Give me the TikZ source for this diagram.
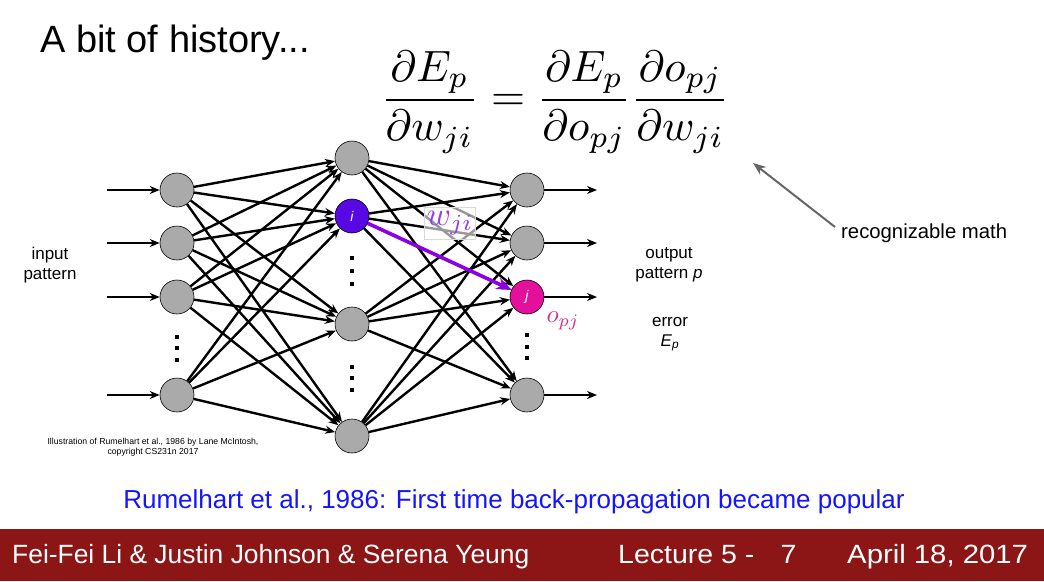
\documentclass[tikz,border=0pt]{standalone}
\usepackage{fontspec}
\setmainfont{Liberation Sans}
\usepackage{graphicx}
\usetikzlibrary{arrows.meta}
\definecolor{cardinal}{RGB}{140,21,21}
\definecolor{unitgray}{RGB}{170,170,170}
\definecolor{hidviolet}{RGB}{88,8,226}
\definecolor{outpink}{RGB}{228,16,156}
\definecolor{wviolet}{RGB}{140,0,230}
\definecolor{wlabel}{RGB}{150,60,235}
\definecolor{olabel}{RGB}{215,45,145}
\definecolor{capblue}{RGB}{20,20,255}

\begin{document}
\begin{tikzpicture}[x=1pt, y=-1pt,
  unit/.style={circle, draw=black, line width=0.6pt, minimum size=34pt, inner sep=0pt, font=\fontsize{14}{14}\selectfont\itshape, text=white},
  edge/.style={-{Stealth[length=10pt,width=8pt]}, line width=2.4pt},
  lab/.style={font=\fontsize{17}{20}\selectfont, align=center},
  foot/.style={anchor=base west, inner sep=0pt, text=white, font=\fontsize{26.4}{30}\selectfont}
]
\path[use as bounding box, fill=white] (0,0) rectangle (1044,581);

\node[anchor=base west, inner sep=0pt, font=\fontsize{38}{40}\selectfont] (title) at (40,52) {A bit of history...};
\node (eqn) at (555,102) {\scalebox{4.38}{$\displaystyle\frac{\partial E_p}{\partial w_{ji}} = \frac{\partial E_p}{\partial o_{pj}}\frac{\partial o_{pj}}{\partial w_{ji}}$}};

% units
\foreach \n/\y/\c/\t in {1/190/unitgray/{},2/243/unitgray/{},3/297/outpink/j,4/395/unitgray/{}} {
  \node[unit, fill=unitgray] (in\n) at (177,\y) {};
  \node[unit, fill=\c] (out\n) at (527,\y) {\t};
  \coordinate (src\n) at (107,\y);
  \coordinate (dst\n) at (597,\y);
}
\foreach \n/\y/\c/\t in {1/158/unitgray/{},2/216/hidviolet/i,3/324/unitgray/{},4/436/unitgray/{}}
  \node[unit, fill=\c] (hid\n) at (352,\y) {\t};

\foreach \x/\y in {177/337,177/348,177/360,352/258,352/271,352/284,352/367,352/378,352/390,527/335,527/347,527/358}
  \fill (\x-1.9,\y-1.9) rectangle ++(3.8,3.8);

% weights
\foreach \a in {1,...,4} {
  \draw[edge] (src\a) -- (in\a);
  \draw[edge] (out\a) -- (dst\a);
  \foreach \b in {1,...,4} {
    \draw[edge] (in\a) -- (hid\b);
    \draw[edge] (hid\a) -- (out\b);
  }
}
\draw[line width=3.6pt, draw=wviolet, -{Stealth[length=15pt,width=12pt]}] (hid2) -- (out3);

\node[draw=black!15, fill=white, fill opacity=0.6, text opacity=1, text=wlabel, inner sep=1pt, minimum width=51pt, minimum height=32pt] (wji) at (450,223) {\scalebox{3.3}{$w_{ji}$}};
\node[text=olabel] (opj) at (563,321) {\scalebox{2.5}{$o_{pj}$}};

\node[lab] (inlab) at (50,265) {input\\pattern};
\node[lab] (outlab) at (669,265) {output\\pattern \textit{p}};
\node[lab] (errlab) at (670,334) {error\\\textit{E}\textsubscript{\textit{p}}};

\node[anchor=west, inner sep=0pt, font=\fontsize{20.3}{24}\selectfont] (mathnote) at (841,233) {recognizable math};
\coordinate (tail) at ([shift={(-6,-6)}]mathnote.west);
\coordinate (tip) at (753,163);
\draw[-{Stealth[length=13pt,width=10pt]}, line width=2pt, draw=black!60] (tail) -- (tip);

\node[font=\fontsize{8.7}{10.5}\selectfont, align=center] (credit) at (153,447) {Illustration of Rumelhart et al., 1986 by Lane McIntosh,\\copyright CS231n 2017};
\node[text=capblue, font=\fontsize{26}{30}\selectfont] (cap) at (514,502) {Rumelhart et al., 1986: First time back-propagation became popular};

\fill[cardinal] (0,529) rectangle (1044,581);
\node[foot] (names) at (12,563) {Fei-Fei Li \& Justin Johnson \& Serena Yeung};
\node[foot] (lecture) at (618,563) {\scalebox{1.08}[1]{Lecture 5 -}\hspace{26pt}\scalebox{1.08}[1]{7}};
\node[foot] (date) at (847,563) {\scalebox{1.11}[1]{April 18, 2017}};
\end{tikzpicture}
\end{document}
